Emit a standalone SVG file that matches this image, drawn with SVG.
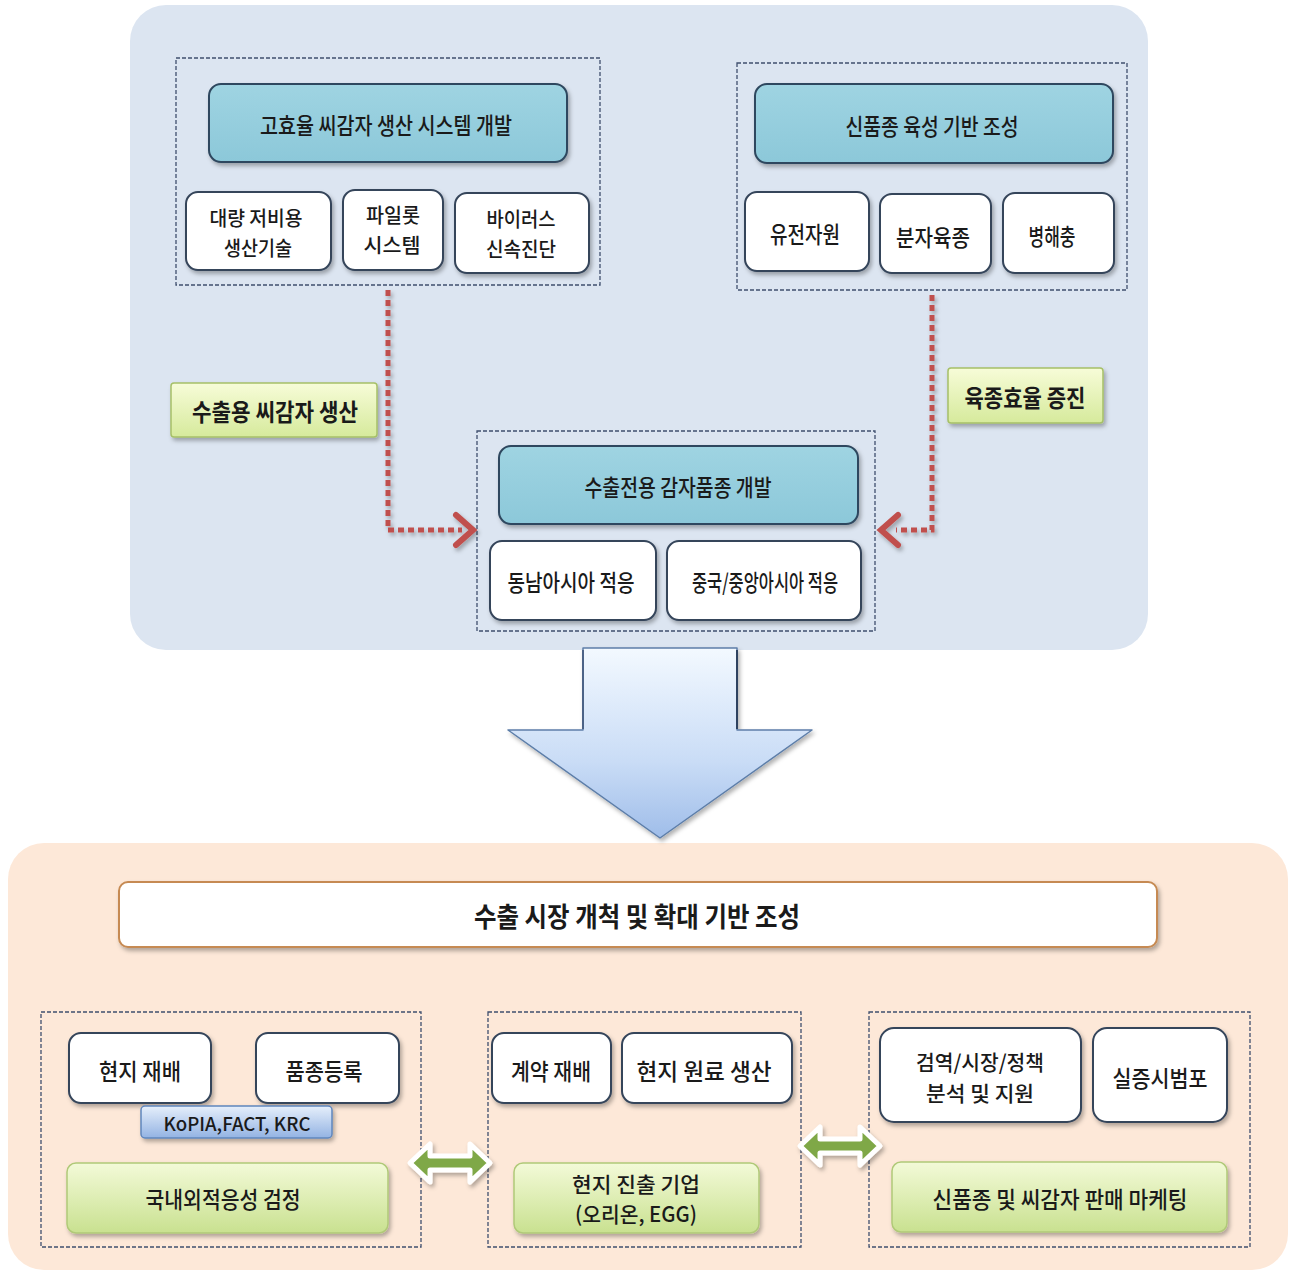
<svg xmlns="http://www.w3.org/2000/svg" width="1292" height="1272" viewBox="0 0 1292 1272">
<defs>
  <filter id="sh" x="-10%" y="-10%" width="130%" height="140%">
    <feDropShadow dx="2" dy="3" stdDeviation="2" flood-color="#000" flood-opacity="0.3"/>
  </filter>
  <linearGradient id="gTeal" x1="0" y1="0" x2="0" y2="1">
    <stop offset="0" stop-color="#9fd4e2"/>
    <stop offset="1" stop-color="#8cc8d9"/>
  </linearGradient>
  <linearGradient id="gLabel" x1="0" y1="0" x2="0" y2="1">
    <stop offset="0" stop-color="#f7fcd8"/>
    <stop offset="1" stop-color="#d6ea9c"/>
  </linearGradient>
  <linearGradient id="gGreen" x1="0" y1="0" x2="0" y2="1">
    <stop offset="0" stop-color="#f3fad8"/>
    <stop offset="1" stop-color="#c9e190"/>
  </linearGradient>
  <linearGradient id="gBlue" x1="0" y1="0" x2="0" y2="1">
    <stop offset="0" stop-color="#e6effb"/>
    <stop offset="1" stop-color="#93b3e3"/>
  </linearGradient>
  <linearGradient id="gArrow" x1="0" y1="0" x2="0" y2="1">
    <stop offset="0" stop-color="#f3f9ff"/>
    <stop offset="0.6" stop-color="#c9dcf6"/>
    <stop offset="1" stop-color="#9fbde9"/>
  </linearGradient>
  <style>
    text { font-family: "Noto Sans CJK KR", "Noto Sans", sans-serif; fill: #1a1a1a; font-size: 23px; font-weight: 500; text-anchor: middle; dominant-baseline: central; }
    .b { font-weight: bold; }
    .two { font-size: 20px; }
    .dash { fill: none; stroke: #3f4f6e; stroke-width: 1.3; stroke-dasharray: 4 2; }
    .teal { fill: url(#gTeal); stroke: #2d475e; stroke-width: 2; }
    .wbox { fill: #ffffff; stroke: #34445a; stroke-width: 2; }
    .label { fill: url(#gLabel); stroke: #a6c068; stroke-width: 1.5; }
    .gbox { fill: url(#gGreen); stroke: #b0c978; stroke-width: 1.5; }
    .red { fill: none; stroke: #c0504d; stroke-width: 5; stroke-dasharray: 6 4; }
    .chev { fill: none; stroke: #c0504d; stroke-width: 6; stroke-linecap: round; stroke-linejoin: miter; }
    .dbl { fill: #7fa846; stroke: #ffffff; stroke-width: 5; stroke-linejoin: round; }
  </style>
</defs>

<!-- Panels -->
<g id="panel-top">
  <rect x="130" y="5" width="1018" height="645" rx="36" fill="#dce5f1"/>
</g>
<g id="panel-bottom">
  <rect x="8" y="843" width="1280" height="427" rx="36" fill="#fde8d8"/>
</g>

<!-- Top-left group -->
<g id="group-seed-system">
  <rect class="dash" x="176" y="58" width="424" height="227"/>
  <g id="node-seed-system">
    <rect class="teal" x="209" y="84" width="358" height="78" rx="12" filter="url(#sh)"/>
    <text x="386" y="124" textLength="252" lengthAdjust="spacingAndGlyphs">고효율 씨감자 생산 시스템 개발</text>
  </g>
  <g id="node-mass">
    <rect class="wbox" x="186" y="192" width="145" height="78" rx="12" filter="url(#sh)"/>
    <text class="two" x="256" y="217" textLength="93" lengthAdjust="spacingAndGlyphs">대량 저비용</text>
    <text class="two" x="258" y="247" textLength="68" lengthAdjust="spacingAndGlyphs">생산기술</text>
  </g>
  <g id="node-pilot">
    <rect class="wbox" x="343" y="190" width="100" height="80" rx="12" filter="url(#sh)"/>
    <text class="two" x="393" y="214" textLength="54" lengthAdjust="spacingAndGlyphs">파일롯</text>
    <text class="two" x="392" y="244" textLength="57" lengthAdjust="spacingAndGlyphs">시스템</text>
  </g>
  <g id="node-virus">
    <rect class="wbox" x="455" y="193" width="134" height="80" rx="12" filter="url(#sh)"/>
    <text class="two" x="521" y="218" textLength="69" lengthAdjust="spacingAndGlyphs">바이러스</text>
    <text class="two" x="521" y="248" textLength="70" lengthAdjust="spacingAndGlyphs">신속진단</text>
  </g>
</g>

<!-- Top-right group -->
<g id="group-breeding">
  <rect class="dash" x="737" y="63" width="390" height="227"/>
  <g id="node-breeding">
    <rect class="teal" x="755" y="84" width="358" height="79" rx="12" filter="url(#sh)"/>
    <text x="932" y="125" textLength="173" lengthAdjust="spacingAndGlyphs">신품종 육성 기반 조성</text>
  </g>
  <g id="node-genetic">
    <rect class="wbox" x="745" y="192" width="124" height="79" rx="12" filter="url(#sh)"/>
    <text x="805" y="233" textLength="70" lengthAdjust="spacingAndGlyphs">유전자원</text>
  </g>
  <g id="node-molecular">
    <rect class="wbox" x="880" y="194" width="111" height="79" rx="12" filter="url(#sh)"/>
    <text x="933" y="236" textLength="74" lengthAdjust="spacingAndGlyphs">분자육종</text>
  </g>
  <g id="node-pest">
    <rect class="wbox" x="1003" y="193" width="111" height="80" rx="12" filter="url(#sh)"/>
    <text x="1052" y="235" textLength="47" lengthAdjust="spacingAndGlyphs">병해충</text>
  </g>
</g>

<!-- Middle group -->
<g id="group-export-variety">
  <rect class="dash" x="477" y="431" width="398" height="200"/>
  <g id="node-export-variety">
    <rect class="teal" x="499" y="446" width="359" height="78" rx="12" filter="url(#sh)"/>
    <text x="678" y="486" textLength="187" lengthAdjust="spacingAndGlyphs">수출전용 감자품종 개발</text>
  </g>
  <g id="node-sea">
    <rect class="wbox" x="490" y="541" width="166" height="79" rx="12" filter="url(#sh)"/>
    <text x="571" y="581" textLength="127" lengthAdjust="spacingAndGlyphs">동남아시아 적응</text>
  </g>
  <g id="node-china">
    <rect class="wbox" x="667" y="541" width="194" height="79" rx="12" filter="url(#sh)"/>
    <text x="765" y="581" textLength="146" lengthAdjust="spacingAndGlyphs">중국/중앙아시아 적응</text>
  </g>
</g>

<!-- Labels -->
<g id="label-seed">
  <rect class="label" x="171" y="383" width="206" height="54" rx="3" filter="url(#sh)"/>
  <text class="b" x="275" y="410" style="font-size:24px" textLength="166" lengthAdjust="spacingAndGlyphs">수출용 씨감자 생산</text>
</g>
<g id="label-efficiency">
  <rect class="label" x="948" y="368" width="155" height="55" rx="3" filter="url(#sh)"/>
  <text class="b" x="1025" y="396" style="font-size:24px" textLength="121" lengthAdjust="spacingAndGlyphs">육종효율 증진</text>
</g>

<!-- Bottom title -->
<g id="node-title">
  <rect x="119" y="882" width="1038" height="65" rx="9" fill="#ffffff" stroke="#c68a52" stroke-width="2" filter="url(#sh)"/>
  <text class="b" x="637" y="915" style="font-size:27px" textLength="326" lengthAdjust="spacingAndGlyphs">수출 시장 개척 및 확대 기반 조성</text>
</g>

<!-- Bottom-left group -->
<g id="group-adaptation">
  <rect class="dash" x="41" y="1012" width="380" height="235"/>
  <g id="node-local-cult">
    <rect class="wbox" x="69" y="1033" width="142" height="70" rx="12" filter="url(#sh)"/>
    <text x="140" y="1070" textLength="82" lengthAdjust="spacingAndGlyphs">현지 재배</text>
  </g>
  <g id="node-registration">
    <rect class="wbox" x="256" y="1033" width="143" height="70" rx="12" filter="url(#sh)"/>
    <text x="324" y="1070" textLength="77" lengthAdjust="spacingAndGlyphs">품종등록</text>
  </g>
  <g id="node-kopia">
    <rect x="141" y="1106" width="191" height="32" rx="4" fill="url(#gBlue)" stroke="#5f86bd" stroke-width="1.5" filter="url(#sh)"/>
    <text x="237" y="1122" style="font-size:19px" textLength="147" lengthAdjust="spacingAndGlyphs">KoPIA,FACT, KRC</text>
  </g>
  <g id="node-adapt-test">
    <rect class="gbox" x="67" y="1163" width="321" height="70" rx="9" filter="url(#sh)"/>
    <text x="223" y="1198" textLength="155" lengthAdjust="spacingAndGlyphs">국내외적응성 검정</text>
  </g>
</g>

<!-- Bottom-middle group -->
<g id="group-local-company">
  <rect class="dash" x="488" y="1012" width="313" height="235"/>
  <g id="node-contract">
    <rect class="wbox" x="492" y="1033" width="119" height="70" rx="12" filter="url(#sh)"/>
    <text x="551" y="1070" textLength="80" lengthAdjust="spacingAndGlyphs">계약 재배</text>
  </g>
  <g id="node-raw">
    <rect class="wbox" x="622" y="1033" width="170" height="70" rx="12" filter="url(#sh)"/>
    <text x="704" y="1070" textLength="135" lengthAdjust="spacingAndGlyphs">현지 원료 생산</text>
  </g>
  <g id="node-company">
    <rect class="gbox" x="514" y="1163" width="245" height="70" rx="9" filter="url(#sh)"/>
    <text class="two" x="636" y="1183" style="font-size:21px" textLength="128" lengthAdjust="spacingAndGlyphs">현지 진출 기업</text>
    <text class="two" x="636" y="1213" style="font-size:21px" textLength="122" lengthAdjust="spacingAndGlyphs">(오리온, EGG)</text>
  </g>
</g>

<!-- Bottom-right group -->
<g id="group-marketing">
  <rect class="dash" x="869" y="1012" width="381" height="235"/>
  <g id="node-quarantine">
    <rect class="wbox" x="880" y="1028" width="201" height="94" rx="14" filter="url(#sh)"/>
    <text class="two" x="980" y="1061" style="font-size:21px" textLength="128" lengthAdjust="spacingAndGlyphs">검역/시장/정책</text>
    <text class="two" x="980" y="1092" style="font-size:21px" textLength="108" lengthAdjust="spacingAndGlyphs">분석 및 지원</text>
  </g>
  <g id="node-demo">
    <rect class="wbox" x="1093" y="1028" width="134" height="94" rx="14" filter="url(#sh)"/>
    <text x="1160" y="1077" textLength="95" lengthAdjust="spacingAndGlyphs">실증시범포</text>
  </g>
  <g id="node-sales">
    <rect class="gbox" x="892" y="1162" width="335" height="70" rx="9" filter="url(#sh)"/>
    <text x="1060" y="1198" textLength="255" lengthAdjust="spacingAndGlyphs">신품종 및 씨감자 판매 마케팅</text>
  </g>
</g>

<!-- Connectors -->
<g id="connectors">
  <g filter="url(#sh)">
    <polyline class="red" points="388,290 388,530 462,530"/>
    <polyline class="chev" points="456,515 473,530 456,545"/>
    <polyline class="red" points="932,295 932,530 896,530"/>
    <polyline class="chev" points="898,515 881,530 898,545"/>
  </g>
  <g id="big-arrow" filter="url(#sh)">
    <polygon points="583,648 737,648 737,730 812,730 660,838 508,730 583,730" fill="url(#gArrow)" stroke="#5d7ea9" stroke-width="1.5" stroke-linejoin="round"/>
    <line x1="737" y1="650" x2="737" y2="729" stroke="#2f4260" stroke-width="2"/>
    <line x1="583" y1="650" x2="583" y2="729" stroke="#3b5274" stroke-width="1.5"/>
  </g>
  <g filter="url(#sh)">
    <polygon class="dbl" points="410,1163 430,1144 430,1156 470,1156 470,1144 490,1163 470,1182 470,1170 430,1170 430,1182"/>
    <polygon class="dbl" points="800,1146 820,1127 820,1139 860,1139 860,1127 880,1146 860,1165 860,1153 820,1153 820,1165"/>
  </g>
</g>
</svg>
